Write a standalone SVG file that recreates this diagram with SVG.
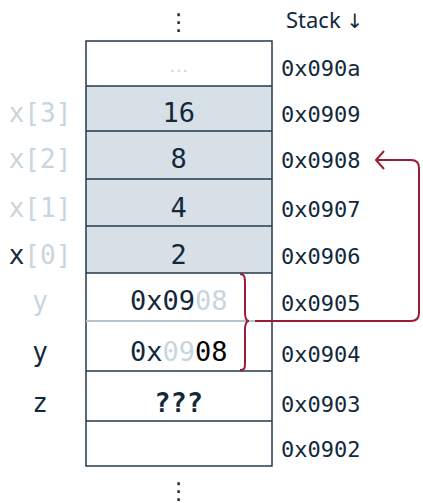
<svg xmlns="http://www.w3.org/2000/svg" width="423" height="503" viewBox="0 0 423 503">
<style>
.cell{stroke:none}
.sh{fill:#d7e0e7}
.wh{fill:#ffffff}
.ln{stroke:#23384b;stroke-width:1.5;fill:none}
.val{font-family:"DejaVu Sans Mono","Liberation Mono",monospace;font-size:27px;fill:#12293b;text-anchor:middle}
.addr{font-family:"DejaVu Sans Mono","Liberation Mono",monospace;font-size:22px;fill:#12293b}
.lab{font-family:"DejaVu Sans Mono","Liberation Mono",monospace;font-size:26px;fill:#12293b;text-anchor:middle}
.dots{font-family:"DejaVu Sans",sans-serif;font-size:23px;fill:#12293b;text-anchor:middle}
.lt{fill:#c9d5de}
.bk{fill:#000000}
.red{stroke:#9b1c35;stroke-width:2;fill:none}
</style>
<defs>
<marker id="ah" markerUnits="userSpaceOnUse" markerWidth="20" markerHeight="24" viewBox="-10 -12 20 24" refX="0" refY="0" orient="auto">
<path d="M-8,-9 L0,0 L-8,9" stroke="#9b1c35" stroke-width="2" fill="none"/>
</marker>
</defs>
<rect width="423" height="503" fill="#ffffff"/>
<text x="286" y="28" font-family="'Noto Sans','Open Sans',sans-serif" font-size="22" fill="#12293b">Stack <tspan font-family="'DejaVu Sans',sans-serif" font-size="20" fill="#12293b">↓</tspan></text>
<text class="dots" x="178.7" y="30">⋮</text>
<g id="r0"><rect class="cell wh" x="86" y="41" width="186" height="45"/><text class="lt" x="178.7" y="72" text-anchor="middle" font-family="'Liberation Sans',sans-serif" font-size="20">…</text><text class="addr" x="281" y="76">0x090a</text></g>
<g id="r1"><rect class="cell sh" x="86" y="86" width="186" height="45"/><text class="lab lt" x="40" y="122">x[3]</text><text class="val" x="178.7" y="122">16</text><text class="addr" x="281" y="122">0x0909</text></g>
<g id="r2"><rect class="cell sh" x="86" y="131" width="186" height="48"/><text class="lab lt" x="40" y="168">x[2]</text><text class="val" x="178.7" y="168">8</text><text class="addr" x="281" y="168">0x0908</text></g>
<g id="r3"><rect class="cell sh" x="86" y="179" width="186" height="47"/><text class="lab lt" x="40" y="217">x[1]</text><text class="val" x="178.7" y="217">4</text><text class="addr" x="281" y="217">0x0907</text></g>
<g id="r4"><rect class="cell sh" x="86" y="226" width="186" height="47"/><text class="lab" x="40" y="264">x<tspan class="lt">[0]</tspan></text><text class="val" x="178.7" y="264">2</text><text class="addr" x="281" y="264">0x0906</text></g>
<g id="r5"><rect class="cell wh" x="86" y="273" width="186" height="48"/><text class="lab lt" x="40" y="310">y</text><text class="val" x="178.7" y="310">0x09<tspan class="lt">08</tspan></text><text class="addr" x="281" y="311">0x0905</text></g>
<g id="r6"><rect class="cell wh" x="86" y="321" width="186" height="50"/><text class="lab" x="40" y="361">y</text><text class="val" x="178.7" y="361">0x<tspan class="lt">09</tspan><tspan class="bk">08</tspan></text><text class="addr" x="281" y="362">0x0904</text></g>
<g id="r7"><rect class="cell wh" x="86" y="371" width="186" height="50"/><text class="lab" x="40" y="412">z</text><text class="val" x="178.7" y="412" font-weight="bold">???</text><text class="addr" x="281" y="412">0x0903</text></g>
<g id="r8"><rect class="cell wh" x="86" y="421" width="186" height="45"/><text class="addr" x="281" y="457">0x0902</text></g>
<g id="grid">
<rect class="ln" x="86" y="41" width="186" height="425"/>
<path class="ln" d="M86,86H272M86,131H272M86,179H272M86,226H272M86,273H272M86,371H272M86,421H272"/>
<path d="M86,321H272" stroke="#b7c3cc" stroke-width="2"/>
</g>
<text class="dots" x="178.7" y="499">⋮</text>
<g id="connectors">
<path class="red" d="M240,274 C245,274 245,278 245,284 L245,312 C245,318 246,321 249,321 C246,321 245,324 245,330 L245,362 C245,368 245,370 240,370"/>
<path class="red" d="M255,321 H411 Q419,321 419,313 V168 Q419,160 411,160 H376" marker-end="url(#ah)"/>
</g>
</svg>
